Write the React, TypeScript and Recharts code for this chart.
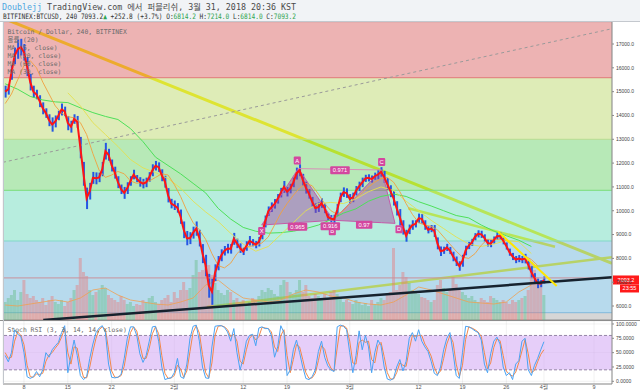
import React from "react";
import {
  Area,
  Bar,
  CartesianGrid,
  Cell,
  ComposedChart,
  Line,
  ReferenceArea,
  ReferenceDot,
  ReferenceLine,
  XAxis,
  YAxis,
} from "recharts";

// time axis in days since Jan 1 2018, 4h candles sampled every half day
const DAY0 = 4;
const STEP = 0.5;
const X_DOMAIN: [number, number] = [3.65, 100.87];
const P_DOMAIN: [number, number] = [5413, 17924];
const S_DOMAIN: [number, number] = [-4.7, 105.2];

const dayTicks = [7, 14, 21, 31, 42, 49, 59, 70, 77, 84, 90, 98];
const dayLabels = ["8", "15", "22", "2월", "12", "19", "3월", "12", "19", "26", "4월", "9"];
const priceTicks = [6000, 7000, 8000, 9000, 10000, 11000, 12000, 13000, 14000, 15000, 16000, 17000];
const stochTicks = [0, 25, 50, 75, 100];

const closes = [
  15000, 15100, 15800, 16500, 16780, 16870, 16650, 16050, 15400, 15000,
  14880, 14600, 14300, 14100, 13800, 13620, 13750, 14000, 14250, 14170,
  13680, 13530, 13850, 13730, 12650, 11550, 10520, 10820, 11380, 11360,
  11400, 11750, 12500, 12350, 11900, 11600, 11200, 10900, 10750, 10950,
  11250, 11520, 11350, 11210, 11140, 11190, 11420, 11700, 11890, 11830,
  11490, 11220, 10650, 10300, 10230, 10120, 9750, 9200, 8850, 8850,
  9080, 9250, 8850, 8200, 7700, 6850, 6600, 7400, 7800, 8130,
  8320, 8410, 8400, 8820, 8630, 8430, 8290, 8520, 8740, 8660,
  8580, 8700, 9050, 9550, 9980, 10150, 10290, 10500, 10760, 11000,
  10800, 10930, 11190, 11560, 11700, 11300, 10970, 10710, 10380, 10110,
  10150, 10320, 10100, 9740, 9670, 9630, 10030, 10560, 10780, 10740,
  10500, 10560, 10840, 11020, 11190, 11360, 11380, 11330, 11450, 11520,
  11630, 11420, 11120, 10820, 10520, 10100, 9720, 9300, 8950, 9220,
  9400, 9450, 9680, 9660, 9400, 9200, 9250, 9150, 8630, 8300,
  8340, 8460, 8330, 8080, 7880, 7680, 7900, 8330, 8540, 8670,
  8910, 9030, 9010, 8860, 8650, 8620, 8770, 8930, 8940, 8740,
  8520, 8260, 8080, 7950, 7990, 7950, 7990, 7730, 7420, 7180,
  6950, 6940, 7093,
];

const ranges = [
  500, 450, 600, 700, 800, 700, 700, 800, 700, 500,
  400, 500, 500, 400, 500, 600, 500, 400, 500, 400,
  600, 500, 400, 500, 900, 1000, 900, 700, 500, 500,
  400, 600, 700, 500, 500, 500, 500, 400, 500, 500,
  400, 400, 300, 400, 400, 400, 400, 500, 400, 400,
  500, 500, 600, 400, 400, 400, 600, 700, 600, 500,
  500, 600, 700, 800, 900, 1000, 1100, 700, 600, 500,
  400, 400, 400, 500, 400, 400, 300, 400, 400, 300,
  300, 400, 500, 500, 400, 400, 400, 400, 400, 500,
  400, 400, 400, 500, 500, 500, 500, 400, 400, 400,
  400, 400, 400, 300, 300, 400, 500, 400, 400, 400,
  400, 400, 400, 400, 400, 300, 300, 300, 300, 400,
  400, 500, 500, 500, 600, 600, 700, 600, 500, 400,
  400, 300, 400, 400, 400, 300, 300, 500, 500, 400,
  300, 300, 300, 400, 400, 400, 500, 400, 300, 300,
  300, 300, 300, 300, 300, 300, 300, 300, 300, 300,
  300, 300, 300, 300, 300, 300, 400, 400, 500, 400,
  400, 300, 300,
];

const volumes = [
  18, 22, 25, 30, 20, 28, 40, 26, 22, 24,
  20, 18, 22, 15, 20, 24, 18, 16, 20, 14,
  18, 22, 30, 35, 62, 48, 44, 30, 25, 28,
  30, 35, 32, 25, 22, 20, 18, 24, 20, 16,
  18, 14, 16, 15, 20, 18, 22, 24, 18, 16,
  20, 22, 25, 18, 28, 22, 30, 38, 30, 32,
  45, 60, 48, 50, 57, 55, 45, 37, 30, 27,
  25, 30, 28, 20, 22, 18, 20, 16, 18, 22,
  20, 24, 30, 28, 32, 30, 26, 24, 35, 40,
  38, 28, 26, 30, 40, 28, 35, 24, 22, 26,
  24, 20, 26, 22, 28, 30, 26, 22, 18, 20,
  18, 16, 20, 18, 15, 17, 14, 20, 16, 18,
  22, 20, 25, 28, 72, 30, 35, 48, 43, 37,
  30, 28, 26, 23, 22, 20, 18, 20, 35, 40,
  32, 28, 30, 43, 36, 30, 28, 25, 22, 24,
  20, 18, 22, 20, 18, 24, 22, 20, 18, 20,
  18, 16, 20, 18, 20, 22, 24, 30, 58, 50,
  43, 40, 25,
];

const stochK = [
  45, 34, 50, 90, 82, 78, 50, 8, 5, 8,
  17, 8, 20, 50, 42, 55, 62, 68, 85, 97,
  15, 45, 72, 45, 10, 3, 8, 40, 65, 85,
  93, 97, 85, 30, 7, 6, 7, 12, 40, 75,
  95, 95, 80, 48, 33, 45, 70, 95, 96, 70,
  25, 3, 5, 6, 15, 40, 8, 5, 30, 75,
  96, 98, 70, 25, 6, 5, 60, 96, 97, 97,
  94, 86, 70, 92, 50, 20, 40, 70, 80, 82,
  62, 93, 95, 92, 92, 80, 42, 60, 97, 85,
  10, 20, 55, 72, 50, 25, 5, 3, 8, 20,
  52, 70, 42, 27, 20, 17, 95, 98, 96, 90,
  50, 15, 45, 88, 55, 80, 60, 15, 50, 72,
  62, 25, 4, 2, 5, 25, 38, 18, 35, 75,
  85, 70, 90, 70, 60, 52, 35, 14, 10, 25,
  55, 75, 85, 50, 10, 5, 50, 96, 95, 92,
  88, 85, 72, 30, 15, 48, 70, 77, 65, 25,
  10, 15, 3, 30, 36, 70, 75, 20, 10, 28,
  40, 55, 69,
];

const stochD = [
  50, 40, 42, 70, 86, 80, 64, 28, 8, 7,
  13, 12, 14, 35, 46, 50, 58, 65, 77, 92,
  50, 30, 60, 58, 28, 7, 6, 25, 52, 75,
  90, 95, 91, 55, 18, 7, 7, 10, 26, 58,
  85, 95, 88, 64, 40, 40, 58, 83, 95, 83,
  45, 14, 5, 6, 10, 28, 22, 7, 18, 52,
  86, 97, 84, 47, 15, 6, 32, 80, 96, 97,
  95, 90, 78, 82, 70, 35, 30, 55, 75, 81,
  72, 78, 94, 93, 92, 86, 60, 52, 80, 90,
  45, 15, 38, 64, 60, 38, 15, 5, 6, 14,
  36, 62, 56, 35, 23, 18, 58, 96, 97, 93,
  70, 32, 30, 68, 72, 68, 70, 38, 32, 62,
  68, 43, 15, 4, 4, 15, 32, 28, 26, 55,
  80, 78, 80, 80, 65, 56, 44, 25, 12, 18,
  40, 65, 80, 68, 30, 8, 28, 73, 95, 93,
  90, 86, 78, 50, 22, 32, 59, 74, 71, 45,
  18, 12, 9, 16, 33, 53, 73, 48, 15, 19,
  34, 47, 55,
];

// MA(20) – one value per day from day 4
const maFast = [
  14500, 14900, 15500, 16100, 16300, 16000, 15400, 14900, 14400, 14100,
  13950, 13900, 13700, 13200, 12400, 11700, 11400, 11500, 11650, 11550,
  11250, 11150, 11200, 11250, 11400, 11550, 11500, 11100, 10600, 10000,
  9500, 9200, 8800, 8200, 7700, 7600, 7800, 8200, 8450, 8500,
  8550, 8650, 8900, 9400, 9900, 10300, 10650, 10950, 11150, 11050,
  10700, 10300, 10000, 9850, 10000, 10300, 10550, 10750, 11000, 11200,
  11350, 11400, 11200, 10800, 10300, 9850, 9500, 9400, 9350, 9200,
  8900, 8600, 8300, 8050, 8000, 8200, 8550, 8800, 8800, 8800,
  8750, 8550, 8300, 8100, 7950, 7700,
];

// slow MAs and volume MA – one value every two days from day 4
const maSlow = [
  15330, 15100, 14800, 14650, 14570, 14540, 14320, 14120, 13960, 13830,
  13450, 12900, 12250, 11900, 11550, 11150, 10750, 10100, 9650, 9300,
  9140, 9060, 9080, 9140, 9250, 9400, 9630, 9900, 10080, 10400,
  10600, 10700, 10600, 10380, 10200, 10000, 9800, 9700, 9400, 9150,
  8950, 8760, 8500,
];
const maMid = [
  null, null, null, null, null, 14950, 14400, 13700, 13200, 12700,
  12150, 11800, 11600, 11350, 10950, 10400, 9950, 9550, 9050, 8600,
  8300, 8500, 9000, 9500, 10000, 10300, 10350, 10300, 10500, 10800,
  11000, 10850, 10400, 10000, 9600, 9250, 8900, 8600, 8500, 8600,
  8750, 8700, 8200,
];
const volMa = [
  15, 14, 16, 18, 20, 18, 22, 30, 32, 25,
  20, 18, 16, 15, 18, 22, 35, 40, 30, 22,
  20, 18, 20, 26, 30, 28, 24, 22, 18, 16,
  15, 18, 25, 33, 30, 26, 22, 18, 17, 16,
  18, 28, 35,
];

// fibonacci zone boundaries (price)
const fibLevels = [17924, 15585, 13000, 10858, 8730, 5720, 5413];
const fibFills = ["#d96060", "#b9d769", "#69d269", "#69d9b9", "#69b1d9", "#aaaaaa"];
const fibEdges = ["#e07878", "#b8dc90", "#78dc78", "#80d8c8", "#80b8dc", "#999999"];

// drawings, anchored in (day, price)
const bigTrend = [{ x: 3.65, y: 18086 }, { x: 100.87, y: 7790 }];
const innerTrend = [{ x: 68.35, y: 10102 }, { x: 91.77, y: 8490 }];
const risingTrend = [{ x: 36.2, y: 5959 }, { x: 100.87, y: 8045 }];
const blackTrend = [{ x: 10.08, y: 5413 }, { x: 100.87, y: 7206 }];
const steepTrend = [{ x: 82.72, y: 9120 }, { x: 92.04, y: 6840 }];
const dashedTrend = [{ x: 3.65, y: 12034 }, { x: 100.87, y: 17642 }];
const hLine = 7180;
const lastPrice = 7093.2;

const patternNames = ["X", "A", "B", "C", "D"];
const patternDays = [44.95, 50.79, 56.38, 64.1, 66.23];
const patternPrices = [9400, 11770, 9600, 11710, 9470];
const ratioTexts = ["0.971", "0.965", "0.916", "0.97"];
const ratioPairs = [[1, 3], [0, 2], [2, 2], [2, 4]];

const rows = closes.map((c, i) => ({
  day: DAY0 + i * STEP,
  close: c,
  lo: c - ranges[i] / 2,
  span: ranges[i],
  vol: volumes[i],
  up: i === 0 || c >= closes[i - 1],
  k: stochK[i],
  d: stochD[i],
}));
const fastRows = maFast.map((v, i) => ({ day: DAY0 + i, v }));
const slowRows = maSlow.map((v, i) => ({ day: DAY0 + 2 * i, v }));
const midRows = maMid.map((v, i) => ({ day: DAY0 + 2 * i, v }));
const volMaRows = volMa.map((v, i) => ({ day: DAY0 + 2 * i, v }));

const pt = (i: number) => ({ day: patternDays[i], price: patternPrices[i] });
function triangle(a: number, b: number, c: number) {
  const A = pt(a), B = pt(b), C = pt(c);
  const t = (B.day - A.day) / (C.day - A.day);
  const base = A.price + (C.price - A.price) * t;
  return [
    { day: A.day, band: [A.price, A.price] },
    { day: B.day, band: [base, B.price] },
    { day: C.day, band: [C.price, C.price] },
  ];
}
const triXAB = triangle(0, 1, 2);
const triBCD = triangle(2, 3, 4);

const mono = '"DejaVu Sans Mono", "Noto Sans CJK KR", monospace';
const sans = '"Liberation Sans", Arial, sans-serif';
const W = 640;
const MAIN_H = 298;
const MARGIN = { top: 0, right: 0, left: 3, bottom: 0 };

const nameOffsets: Record<string, [number, number]> = {
  X: [0, 6],
  A: [-1, -8],
  B: [-1, 11],
  C: [0, -8],
  D: [4, 6],
};
const ratioOffsets: [number, number][] = [[0, 1], [0, 4], [-3, 6], [0, 3]];

function tag(text: string, dx: number, dy: number) {
  return (p: any) => {
    const w = text.length * 3.1 + 4;
    const cx = p.cx + dx;
    const cy = p.cy + dy;
    return (
      <g>
        <rect x={cx - w / 2} y={cy - 4} width={w} height={8} rx={1} fill="#d3479f" />
        <text x={cx} y={cy + 2.1} textAnchor="middle" fontSize={5.8} fill="#fff" fontFamily={sans}>
          {text}
        </text>
      </g>
    );
  };
}

function PriceTag(props: any) {
  const vb = props.viewBox || {};
  const x = (vb.x || 0) + (vb.width || 0) + 1;
  const y = vb.y || 0;
  return (
    <g>
      <rect x={x} y={y - 4.5} width={26} height={9} fill="#ff1a1a" />
      <text x={x + 13} y={y + 2} textAnchor="middle" fontSize={5.5} fill="#fff" fontFamily={sans}>
        {lastPrice.toFixed(1)}
      </text>
      <rect x={x + 7} y={y + 4.5} width={19} height={8} fill="#ff1a1a" />
      <text x={x + 16.5} y={y + 10.5} textAnchor="middle" fontSize={5.5} fill="#fff" fontFamily={sans}>
        23:55
      </text>
    </g>
  );
}

function Header() {
  const g = "#2fa44f";
  return (
    <svg width={W} height={22} style={{ position: "absolute", left: 0, top: 0 }}>
      <rect x={0} y={0} width={W} height={22} fill="#f1f3f6" />
      <line x1={0} x2={W} y1={21.5} y2={21.5} stroke="#c4c8ce" />
      <text x={2} y={9.5} fontSize={8} fontFamily={mono} fill="#4a4a4a" textLength={294} lengthAdjust="spacingAndGlyphs">
        <tspan fill="#4fa6e0">Doublejj</tspan> TradingView.com 에서 퍼블리쉬, 3월 31, 2018 20:36 KST
      </text>
      <text x={3} y={19} fontSize={7.5} fontFamily={mono} fill="#333" textLength={293} lengthAdjust="spacingAndGlyphs">
        {"BITFINEX:BTCUSD, 240 7093.2"}
        <tspan fill={g}>▲</tspan>
        {" +252.8 (+3.7%) O:"}
        <tspan fill={g}>6814.2</tspan>
        {" H:"}
        <tspan fill={g}>7214.0</tspan>
        {" L:"}
        <tspan fill={g}>6814.0</tspan>
        {" C:"}
        <tspan fill={g}>7093.2</tspan>
      </text>
    </svg>
  );
}

function PriceAxesHidden() {
  return [
    <XAxis key="x" dataKey="day" type="number" domain={X_DOMAIN} ticks={dayTicks} allowDataOverflow height={0} tick={false} axisLine={false} tickLine={false} />,
    <YAxis key="y" yAxisId="p" orientation="right" width={28} domain={P_DOMAIN} ticks={priceTicks} allowDataOverflow tick={false} axisLine={false} tickLine={false} />,
  ];
}

function PriceBackground() {
  return (
    <ComposedChart width={W} height={MAIN_H} data={rows} margin={MARGIN}>
      {PriceAxesHidden()}
      <YAxis yAxisId="v" domain={[0, MAIN_H]} hide />
      <ReferenceLine yAxisId="p" segment={bigTrend} stroke="#fff000" strokeWidth={3} ifOverflow="hidden" zIndex={10} />
      <ReferenceLine yAxisId="p" segment={innerTrend} stroke="#fff000" strokeWidth={2.5} ifOverflow="hidden" zIndex={10} />
      <ReferenceLine yAxisId="p" segment={risingTrend} stroke="#fff000" strokeWidth={2.5} ifOverflow="hidden" zIndex={10} />
      {fibFills.map((f, i) => (
        <ReferenceArea
          key={"b" + i}
          yAxisId="p"
          y1={fibLevels[i + 1]}
          y2={fibLevels[i]}
          fill={f}
          fillOpacity={0.48}
          stroke="none"
          ifOverflow="hidden"
          zIndex={20}
        />
      ))}
      {fibEdges.map((c, i) => (
        <ReferenceLine key={"e" + i} yAxisId="p" y={fibLevels[i + 1]} stroke={c} strokeWidth={1} zIndex={21} />
      ))}
      <CartesianGrid yAxisId="p" stroke="rgba(90,90,90,0.10)" zIndex={22} />
      <Bar yAxisId="v" dataKey="vol" barSize={3} isAnimationActive={false} zIndex={30}>
        {rows.map((r, i) => (
          <Cell key={i} fill={r.up ? "#5cb87c" : "#ee6f6f"} fillOpacity={0.4} />
        ))}
      </Bar>
      <Line yAxisId="v" data={volMaRows} dataKey="v" stroke="#f0a050" strokeWidth={0.8} dot={false} isAnimationActive={false} zIndex={31} />
    </ComposedChart>
  );
}

// candles: invisible base up to the low, blue body from low to high
function CandleLayer() {
  return (
    <ComposedChart width={W} height={MAIN_H} data={rows} margin={MARGIN}>
      {PriceAxesHidden()}
      <Bar yAxisId="p" dataKey="lo" stackId="c" barSize={2} fill="transparent" isAnimationActive={false} />
      <Bar yAxisId="p" dataKey="span" stackId="c" barSize={2} fill="#2456e4" isAnimationActive={false} />
    </ComposedChart>
  );
}

function PriceOverlay() {
  return (
    <ComposedChart width={W} height={MAIN_H} data={rows} margin={MARGIN}>
      <XAxis dataKey="day" type="number" domain={X_DOMAIN} ticks={dayTicks} allowDataOverflow height={0} tick={false} axisLine={false} tickLine={false} />
      <YAxis
        yAxisId="p"
        orientation="right"
        width={28}
        domain={P_DOMAIN}
        ticks={priceTicks}
        allowDataOverflow
        tickFormatter={(v: number) => v.toFixed(1)}
        tick={{ fontSize: 5, fill: "#444", fontFamily: sans }}
        tickSize={2}
        tickMargin={2}
        axisLine={{ stroke: "#8a8a8a" }}
        tickLine={{ stroke: "#8a8a8a" }}
      />
      <ReferenceLine yAxisId="p" segment={dashedTrend} stroke="#9a9a9a" strokeDasharray="3 3" ifOverflow="hidden" />
      <ReferenceLine yAxisId="p" y={hLine} stroke="#c9909a" strokeWidth={1} />
      <Area yAxisId="p" data={triXAB} dataKey="band" type="linear" stroke="#c45aa8" strokeWidth={1} fill="#a0409a" fillOpacity={0.45} isAnimationActive={false} />
      <Area yAxisId="p" data={triBCD} dataKey="band" type="linear" stroke="#c45aa8" strokeWidth={1} fill="#a0409a" fillOpacity={0.45} isAnimationActive={false} />
      <ReferenceLine
        yAxisId="p"
        segment={[{ x: patternDays[1], y: patternPrices[1] }, { x: patternDays[3], y: patternPrices[3] }]}
        stroke="#d890b8"
        strokeWidth={1}
      />
      <Line yAxisId="p" data={slowRows} dataKey="v" stroke="#4ee05a" strokeWidth={1} dot={false} isAnimationActive={false} />
      <Line yAxisId="p" data={midRows} dataKey="v" stroke="#e4e050" strokeWidth={0.9} dot={false} isAnimationActive={false} />
      <Line yAxisId="p" data={fastRows} dataKey="v" stroke="#f0a040" strokeWidth={0.9} dot={false} isAnimationActive={false} />
      <Line yAxisId="p" dataKey="close" stroke="#ff1414" strokeWidth={2} dot={false} isAnimationActive={false} />
      <ReferenceLine yAxisId="p" segment={blackTrend} stroke="#16222e" strokeWidth={2.5} ifOverflow="hidden" />
      <ReferenceLine yAxisId="p" segment={steepTrend} stroke="#ffe600" strokeWidth={2} ifOverflow="hidden" />
      {patternNames.map((n, i) => (
        <ReferenceDot
          key={n}
          yAxisId="p"
          x={patternDays[i]}
          y={patternPrices[i]}
          r={0}
          shape={tag(n, nameOffsets[n][0], nameOffsets[n][1])}
        />
      ))}
      {ratioTexts.map((t, i) => {
        const [a, b] = ratioPairs[i];
        return (
          <ReferenceDot
            key={t}
            yAxisId="p"
            x={(patternDays[a] + patternDays[b]) / 2}
            y={(patternPrices[a] + patternPrices[b]) / 2}
            r={0}
            shape={tag(t, ratioOffsets[i][0], ratioOffsets[i][1])}
          />
        );
      })}
      <ReferenceLine yAxisId="p" y={lastPrice} stroke="none" label={<PriceTag />} />
    </ComposedChart>
  );
}

function StochPane() {
  return (
    <ComposedChart width={W} height={72} data={rows} margin={{ top: 1, right: 0, left: 3, bottom: 0 }}>
      <XAxis
        dataKey="day"
        type="number"
        domain={X_DOMAIN}
        ticks={dayTicks}
        allowDataOverflow
        height={8}
        tickFormatter={(v: number) => dayLabels[dayTicks.indexOf(v)]}
        tick={{ fontSize: 5.5, fill: "#555", fontFamily: '"Liberation Sans", "Noto Sans CJK KR", sans-serif' }}
        tickLine={false}
        tickSize={0}
        tickMargin={1}
        axisLine={{ stroke: "#8a8a8a" }}
      />
      <YAxis
        orientation="right"
        width={28}
        domain={S_DOMAIN}
        ticks={stochTicks}
        allowDataOverflow
        tickFormatter={(v: number) => v.toFixed(4)}
        tick={{ fontSize: 5, fill: "#444", fontFamily: sans }}
        tickSize={2}
        tickMargin={2}
        axisLine={{ stroke: "#8a8a8a" }}
        tickLine={{ stroke: "#8a8a8a" }}
      />
      <ReferenceArea y1={20} y2={80} fill="#d2a6f4" fillOpacity={0.55} stroke="none" />
      <CartesianGrid stroke="rgba(90,90,90,0.08)" />
      <ReferenceLine y={80} stroke="#9484a6" strokeDasharray="3 2" />
      <ReferenceLine y={20} stroke="#9484a6" strokeDasharray="3 2" />
      <Line dataKey="d" stroke="#f3884a" strokeWidth={1} dot={false} isAnimationActive={false} />
      <Line dataKey="k" stroke="#4aa3f3" strokeWidth={1} dot={false} isAnimationActive={false} />
    </ComposedChart>
  );
}

const legendLines = [
  "Bitcoin / Dollar, 240, BITFINEX",
  "볼륨 (20)",
  "MA (5, close)",
  "MA (20, close)",
  "MA (60, close)",
  "MA (30, close)",
];

export default function App() {
  return (
    <div style={{ position: "fixed", left: 0, top: 0, width: W, height: 392, background: "#fff", overflow: "hidden" }}>
      <Header />
      <div style={{ position: "absolute", left: 0, top: 22 }}>
        <PriceBackground />
      </div>
      <div style={{ position: "absolute", left: 0, top: 22 }}>
        <CandleLayer />
      </div>
      <div style={{ position: "absolute", left: 0, top: 22 }}>
        <PriceOverlay />
      </div>
      <div
        style={{
          position: "absolute",
          left: 7.5,
          top: 27.5,
          fontFamily: mono,
          fontSize: 6.4,
          lineHeight: "8px",
          color: "#6b6b6b",
          whiteSpace: "pre",
          pointerEvents: "none",
        }}
      >
        {legendLines.map((l) => (
          <div key={l}>{l}</div>
        ))}
      </div>
      <div style={{ position: "absolute", left: 0, top: 320, width: W, height: 1, background: "#8f8f8f" }} />
      <div style={{ position: "absolute", left: 0, top: 320 }}>
        <StochPane />
      </div>
      <div
        style={{
          position: "absolute",
          left: 7.5,
          top: 326,
          fontFamily: mono,
          fontSize: 6.4,
          lineHeight: "8px",
          color: "#6b6b6b",
          whiteSpace: "pre",
        }}
      >
        Stoch RSI (3, 3, 14, 14, close)
      </div>
      <div style={{ position: "absolute", left: 3, top: 22, width: 1, height: 362, background: "#c2c6cc" }} />
    </div>
  );
}
